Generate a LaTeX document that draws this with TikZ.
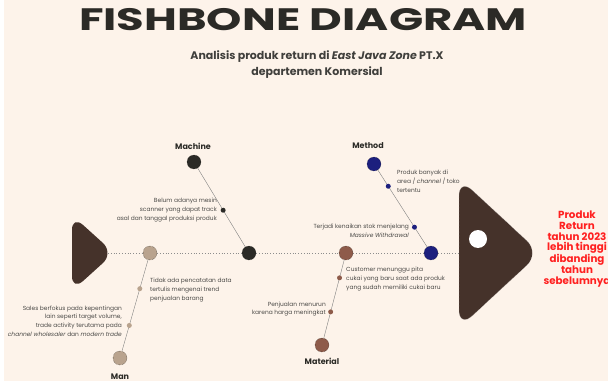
\documentclass[tikz,border=0pt]{standalone}
\usepackage{fontspec}
\setmainfont{Poppins}
\usetikzlibrary{calc}
\definecolor{cream}{HTML}{FDF3EA}
\definecolor{ink}{HTML}{2B2A26}
\definecolor{tan}{HTML}{B9A38E}
\definecolor{rust}{HTML}{8E5B4A}
\definecolor{navy}{HTML}{1C1F7E}
\definecolor{bone}{HTML}{45322A}
\definecolor{alert}{HTML}{FF2020}

\begin{document}
\begin{tikzpicture}[x = 1pt, y = -1pt,
    every node/.style = {inner sep = 0pt},
    joint/.style = {shape = circle, minimum size = 14pt, draw = ink, densely dotted, line width = 0.4pt, fill = #1},
    bead/.style = {shape = circle, minimum size = 5pt, fill = #1},
    cause/.style = {font = \fontsize{8}{9}\selectfont\bfseries, text = ink},
    note/.style = {font = \fontsize{5.9}{8.8}\selectfont, text = ink!85, align = #1},
    rib/.style = {draw = gray, line width = 0.4pt},
    spine/.style = {draw = gray!90, dotted, line width = 0.8pt}]
    \useasboundingbox (0,0) rectangle (608,385);
    \fill[white] (0,0) rectangle (608,385);
    \fill[cream] (4,0) rectangle (608,381);

    \node[font = \fontsize{31}{31}\selectfont\bfseries, text = ink] (title) at (303,20)
        {\scalebox{1.45}[1]{FISHBONE DIAGRAM}};
    \node[font = \fontsize{11}{16}\selectfont\bfseries, text = ink!90, align = center] (subtitle) at (317,65)
        {Analisis produk return di \textit{East Java Zone} PT.X\\departemen Komersial};

    \fill[bone, rounded corners = 15pt] (72,215) -- (114,253) -- (72,291) -- cycle;
    \filldraw[bone, draw = gray!70, densely dotted, rounded corners = 18pt] (459,178) -- (540,253) -- (459,328) -- cycle;
    \fill[white] (478,239) circle (9pt);
    \coordinate (tail) at (108,253);
    \coordinate (head) at (459,253);

    \node[joint = tan] (jman) at (150,253) {};
    \node[joint = ink] (jmachine) at (249,253) {};
    \node[joint = rust] (jmaterial) at (346,253) {};
    \node[joint = navy] (jmethod) at (431,253) {};

    \node[joint = ink] (machine) at (194,162) {};
    \node[joint = tan] (man) at (120,358) {};
    \node[joint = rust] (material) at (322,345) {};
    \node[joint = navy] (method) at (374,164) {};

    \draw[spine] (tail) -- (jman) -- (jmachine) -- (jmaterial) -- (jmethod) -- (head);
    \draw[rib] (machine) -- (jmachine);
    \draw[rib] (man) -- (jman);
    \draw[rib] (material) -- (jmaterial);
    \draw[rib] (method) -- (jmethod);

    \node[bead = ink] (b1) at ($(machine)!0.53!(jmachine)$) {};
    \node[bead = tan] (b2) at ($(jman)!0.34!(man)$) {};
    \node[bead = tan] (b3) at ($(jman)!0.69!(man)$) {};
    \node[bead = rust] (b4) at ($(jmaterial)!0.27!(material)$) {};
    \node[bead = rust] (b5) at ($(jmaterial)!0.64!(material)$) {};
    \node[bead = navy] (b6) at ($(method)!0.25!(jmethod)$) {};
    \node[bead = navy] (b7) at ($(method)!0.71!(jmethod)$) {};

    \node[cause] (lmachine) at (193,146) {Machine};
    \node[cause] (lman) at (120,377) {Man};
    \node[cause] (lmaterial) at (322,361) {Material};
    \node[cause] (lmethod) at (368,146) {Method};

    \node[note = right, anchor = east] (n1) at (217,210)
        {Belum adanya mesin\\scanner yang dapat track\\asal dan tanggal produksi produk};
    \node[note = left, anchor = west] (n2) at (150,290)
        {Tidak ada pencatatan data\\tertulis mengenai trend\\penjualan barang};
    \node[note = right, anchor = east] (n3) at (122,321)
        {Sales berfokus pada kepentingan\\lain seperti target volume,\\trade activity terutama pada\\\textit{channel wholesaler} dan \textit{modern trade}};
    \node[note = left, anchor = west] (n4) at (346,279)
        {Customer menunggu pita\\cukai yang baru saat ada produk\\yang sudah memiliki cukai baru};
    \node[note = right, anchor = east] (n5) at (326,309)
        {Penjualan menurun\\karena harga meningkat};
    \node[note = left, anchor = west] (n6) at (397,181)
        {Produk banyak di\\area / \textit{channel} / toko\\tertentu};
    \node[note = right, anchor = east] (n7) at (409,231)
        {Terjadi kenaikan stok menjelang\\\textit{Massive Withdrawal}};

    \node[font = \fontsize{10.3}{10.8}\selectfont\bfseries, text = alert, align = center] (effect) at (577,249)
        {Produk\\Return\\tahun 2023\\lebih tinggi\\dibanding\\tahun\\sebelumnya};
\end{tikzpicture}
\end{document}
